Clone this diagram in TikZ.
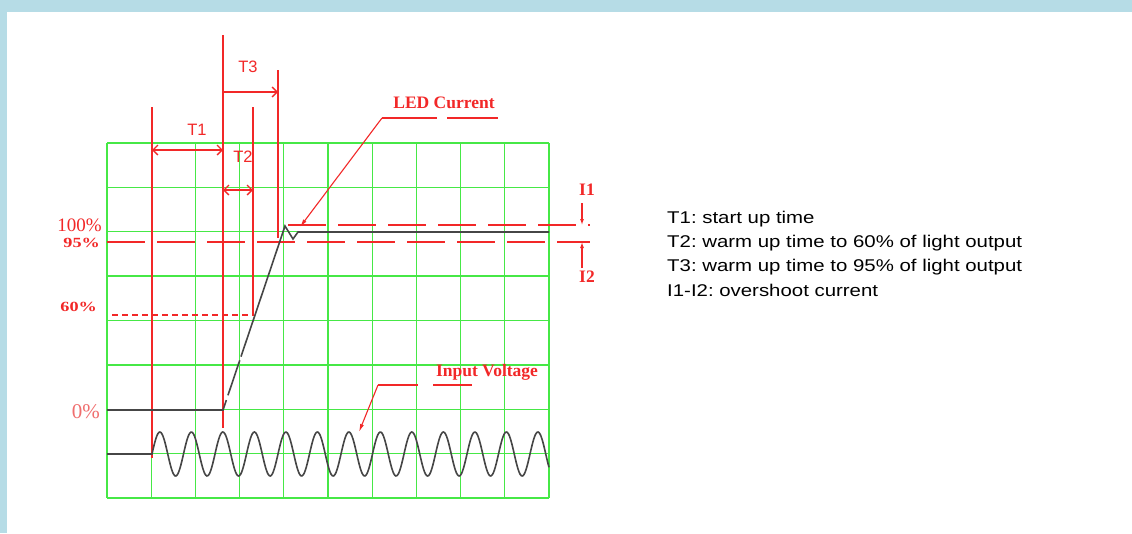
\documentclass[tikz,border=0pt]{standalone}
\usepackage{fontspec}
\setmainfont{Liberation Serif}
\setsansfont{Liberation Sans}
\newfontfamily\legendfont[FakeStretch=1.2]{Liberation Sans}
\newfontfamily\wideserif[FakeStretch=1.3]{Liberation Serif}
\usetikzlibrary{arrows.meta,calc}
\definecolor{gridgreen}{RGB}{70,232,70}
\definecolor{markred}{RGB}{242,40,40}
\definecolor{softred}{RGB}{240,110,110}
\definecolor{tracegray}{RGB}{70,70,70}
\definecolor{framebg}{RGB}{182,220,230}
\tikzset{
	gridline/.style={gridgreen, line width=1.3pt},
	marker/.style={markred, line width=1.3pt},
	levelline/.style={markred, line width=1.2pt, dash pattern=on 38pt off 12pt},
	trace/.style={tracegray, line width=1.6pt},
	barbs/.style={{Straight Barb[length=5pt,width=10pt]}-{Straight Barb[length=5pt,width=10pt]}},
	leader/.style={markred, line width=1.1pt},
	redlabel/.style={text=markred, font=\bfseries\fontsize{17.5}{17.5}\selectfont, inner sep=0pt},
	pctlabel/.style={text=markred, font=\wideserif\bfseries\fontsize{14}{14}\selectfont, anchor=east, inner sep=0pt},
	tlabel/.style={text=markred, font=\sffamily\fontsize{16.5}{16.5}\selectfont, inner sep=0pt},
	legend/.style={anchor=west, font=\legendfont\fontsize{17}{17}\selectfont, inner sep=0pt}
}
\begin{document}
\begin{tikzpicture}[x=1pt, y=-1pt]
	\useasboundingbox (0,0) rectangle (1132,533);
	\fill[framebg] (0,0) rectangle (1132,533);
	\fill[white] (7,12) rectangle (1132,533);
	
	% grid
	\foreach \i in {0,...,10}
	{
		\draw[gridline] (107+44.2*\i, 143) -- (107+44.2*\i, 498);
	}
	\foreach \j in {0,...,8}
	{
		\draw[gridline] (107, 143+44.375*\j) -- (549, 143+44.375*\j);
	}
	
	% timing markers
	\foreach \n/\x/\ya/\yb in {1/152/107/458, 2/223/35/428, 3/253/107/315, 4/278/70/238}
	{
		\coordinate (m\n a) at (\x,\ya);
		\coordinate (m\n b) at (\x,\yb);
		\draw[marker] (m\n a) -- (m\n b);
	}
	
	\coordinate (t1a) at (152,150);
	\coordinate (t1b) at (223,150);
	\coordinate (t2a) at (223,190);
	\coordinate (t2b) at (253,190);
	\coordinate (t3a) at (223,92);
	\coordinate (t3b) at (278,92);
	\draw[marker, barbs] (t1a) -- (t1b);
	\draw[marker, barbs] (t2a) -- (t2b);
	\draw[marker, -{Straight Barb[length=5pt,width=10pt]}] (t3a) -- (t3b);
	\node[tlabel] (t1) at (197,130) {T1};
	\node[tlabel] (t2) at (243,157) {T2};
	\node[tlabel] (t3) at (248,67) {T3};
	
	% levels
	\draw[levelline] (288,225) -- (590,225);
	\draw[levelline] (107,242) -- (590,242);
	\draw[markred, line width=1.1pt, dash pattern=on 6pt off 4pt] (112,315) -- (254,315);
	
	\node[text=markred, font=\fontsize{19}{19}\selectfont, anchor=east, inner sep=0pt] (l100) at (102,225) {100\%};
	\node[pctlabel] (l95) at (100,243) {95\%};
	\node[pctlabel] (l60) at (97,307) {60\%};
	\node[text=softred, font=\fontsize{21}{21}\selectfont, anchor=east, inner sep=0pt] (l0) at (100,412) {0\%};
	
	% overshoot
	\coordinate (i1a) at (582,203);
	\coordinate (i1b) at (582,225);
	\coordinate (i2a) at (582,268);
	\coordinate (i2b) at (582,242);
	\draw[leader, -{Latex[length=6pt,width=4pt]}] (i1a) -- (i1b);
	\draw[leader, -{Latex[length=6pt,width=4pt]}] (i2a) -- (i2b);
	\node[redlabel] (i1) at (587,190) {I1};
	\node[redlabel] (i2) at (587,277) {I2};
	
	% LED current
	\coordinate (r0) at (223,410);
	\coordinate (r1) at (285,226);
	\draw[trace] (107,410) -- (r0) -- ($(r0)!0.054!(r1)$);
	\draw[trace] ($(r0)!0.08!(r1)$) -- ($(r0)!0.27!(r1)$);
	\draw[trace] ($(r0)!0.29!(r1)$) -- (r1) -- (293,239) -- (298,232) -- (549,232);
	
	% input voltage
	\draw[trace] (107,454) -- (152,454)
		-- plot[domain=152:549, samples=400] (\x, {454-22*sin((\x-152)/31.5*360)});
	
	% leaders
	\node[redlabel] (led) at (444,103) {LED Current};
	\coordinate (ledk) at (382,118);
	\coordinate (ledp) at (300,227);
	\coordinate (lede) at (498,118);
	\draw[leader, -{Latex[length=8pt,width=4pt]}] (ledk) -- (ledp);
	\draw[leader, dash pattern=on 55pt off 10pt] (ledk) -- (lede);
	
	\node[redlabel] (inv) at (487,372) {Input Voltage};
	\coordinate (invk) at (378,385);
	\coordinate (invp) at (359,432);
	\coordinate (inve) at (472,385);
	\draw[leader, -{Latex[length=8pt,width=4pt]}] (invk) -- (invp);
	\draw[leader, dash pattern=on 40pt off 15pt] (invk) -- (inve);
	
	% legend
	\node[legend] (lg1) at (667,219) {T1:\ start up time};
	\node[legend] (lg2) at (667,243) {T2:\ warm up time to 60\% of light output};
	\node[legend] (lg3) at (667,267) {T3:\ warm up time to 95\% of light output};
	\node[legend] (lg4) at (667,290) {I1-I2:\ overshoot\ current};
\end{tikzpicture}
\end{document}
